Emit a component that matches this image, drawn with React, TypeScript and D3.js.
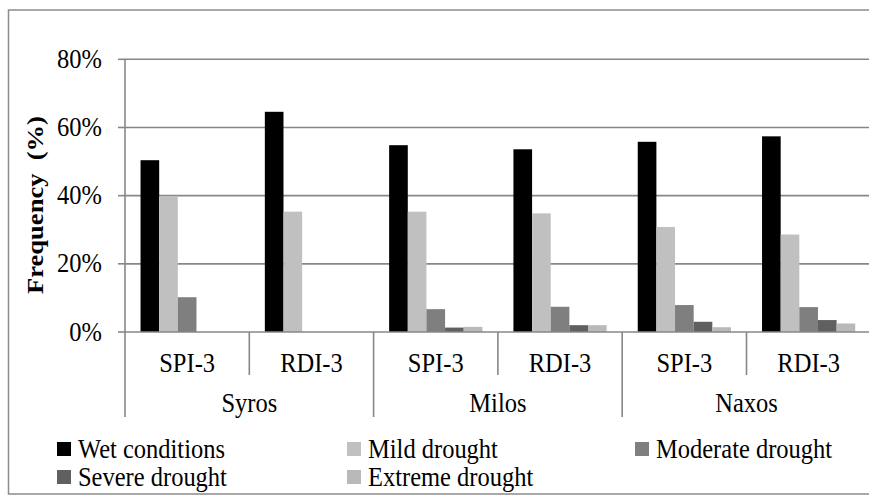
import React from "react";
import * as d3 from "d3";

// Drought class frequencies per island and index
const islands = ["Syros", "Milos", "Naxos"];
const indices = ["SPI-3", "RDI-3"];
const classes = ["Wet conditions", "Mild drought", "Moderate drought", "Severe drought", "Extreme drought"];
const classColors = ["#000000", "#c0c0c0", "#7f7f7f", "#606060", "#b9b9b9"];

// values in %, one row per island/index pair, columns follow `classes`
const syrosSPI = [50.4, 39.8, 10.2, 0, 0];
const syrosRDI = [64.6, 35.3, 0, 0, 0];
const milosSPI = [54.8, 35.3, 6.7, 1.3, 1.5];
const milosRDI = [53.6, 34.8, 7.4, 2.0, 2.0];
const naxosSPI = [55.8, 30.8, 7.9, 3.0, 1.4];
const naxosRDI = [57.4, 28.6, 7.3, 3.5, 2.5];
const seriesRows = [syrosSPI, syrosRDI, milosSPI, milosRDI, naxosSPI, naxosRDI];

const yTicks = [0, 20, 40, 60, 80];

const W = 869;
const H = 495;
const FONT = '"Liberation Serif", Tinos, "Times New Roman", Times, "DejaVu Serif", serif';
const GRID = "#878787";
const STRETCH = 1.13;

// Text drawn slightly condensed (taller than wide), anchored at its baseline
function Label(props: {
  x: number;
  y: number;
  anchor?: "start" | "middle" | "end";
  size?: number;
  rotate?: number;
  bold?: boolean;
  children: React.ReactNode;
}) {
  const { x, y, anchor = "start", size = 24.5, rotate = 0, bold = false, children } = props;
  const t = rotate
    ? `translate(${x},${y}) rotate(${rotate}) scale(${STRETCH},1)`
    : `translate(${x},${y}) scale(1,${STRETCH})`;
  return (
    <text
      transform={t}
      textAnchor={anchor}
      fontSize={size}
      fontWeight={bold ? "bold" : "normal"}
      fill="#000"
      style={{ fontFamily: FONT, whiteSpace: "pre" }}
    >
      {children}
    </text>
  );
}

export default function App() {
  const x0 = 125;
  const x1 = 870.8;
  const yZero = 332;
  const yTop = 59.3;

  const cats = seriesRows.map((_, i) => `${islands[Math.floor(i / 2)]}|${indices[i % 2]}`);
  const xBand = d3.scaleBand<string>().domain(cats).range([x0, x1]).padding(0);
  const bw = xBand.bandwidth();
  const inner = d3.scaleBand<string>().domain(classes).range([bw * 0.125, bw * 0.875]).padding(0);
  const y = d3.scaleLinear().domain([0, 80]).range([yZero, yTop]);

  const legendRows = [
    [0, 1, 2],
    [3, 4],
  ];
  const legendX = [57, 347, 635];
  const legendY = [442, 470];

  return (
    <svg
      width={W}
      height={H}
      style={{ position: "absolute", left: 0, top: 0, background: "#fff", fontFamily: FONT }}
    >
      {/* outer frame */}
      <path d={`M${W + 2},10 H8.5 V494 H${W + 2}`} fill="none" stroke="#8c8c8c" strokeWidth={1.5} />

      {/* gridlines */}
      {yTicks.slice(1).map((t) => (
        <line key={t} x1={x0} x2={W} y1={y(t)} y2={y(t)} stroke={GRID} strokeWidth={1.6} />
      ))}

      {/* bars */}
      {seriesRows.map((row, i) => (
        <g key={cats[i]} transform={`translate(${xBand(cats[i])},0)`}>
          {row.map((v, j) =>
            v > 0 ? (
              <rect
                key={j}
                x={inner(classes[j])}
                y={y(v)}
                width={inner.bandwidth()}
                height={yZero - y(v)}
                fill={classColors[j]}
              />
            ) : null
          )}
        </g>
      ))}

      {/* y axis */}
      <line x1={x0} x2={x0} y1={yTop} y2={yZero} stroke={GRID} strokeWidth={1.6} />
      {yTicks.map((t) => (
        <g key={t}>
          <line x1={x0 - 7} x2={x0} y1={y(t)} y2={y(t)} stroke={GRID} strokeWidth={1.6} />
          <Label x={102} y={y(t) + 8.5} anchor="end">
            {`${t}%`}
          </Label>
        </g>
      ))}
      <Label x={43} y={205} anchor="middle" rotate={-90} size={23.5} bold>
        {"Frequency  (%)"}
      </Label>

      {/* category axis */}
      <line x1={x0} x2={W} y1={yZero} y2={yZero} stroke={GRID} strokeWidth={1.6} />
      {cats.map((c, i) => {
        const left = xBand(c)!;
        return (
          <g key={c}>
            <line
              x1={left}
              x2={left}
              y1={yZero}
              y2={i % 2 === 0 ? 417 : 375}
              stroke={GRID}
              strokeWidth={1.6}
            />
            <Label x={left + bw / 2} y={372} anchor="middle">
              {indices[i % 2]}
            </Label>
          </g>
        );
      })}
      <line x1={x1} x2={x1} y1={yZero} y2={417} stroke={GRID} strokeWidth={1.6} />
      {islands.map((isl, k) => (
        <Label key={isl} x={xBand(cats[k * 2])! + bw} y={412} anchor="middle">
          {isl}
        </Label>
      ))}

      {/* legend */}
      {legendRows.map((row, r) =>
        row.map((ci, c) => (
          <g key={ci} transform={`translate(${legendX[c]},${legendY[r]})`}>
            <rect x={0} y={0} width={14} height={14} fill={classColors[ci]} />
            <Label x={21} y={16}>
              {classes[ci]}
            </Label>
          </g>
        ))
      )}
    </svg>
  );
}
